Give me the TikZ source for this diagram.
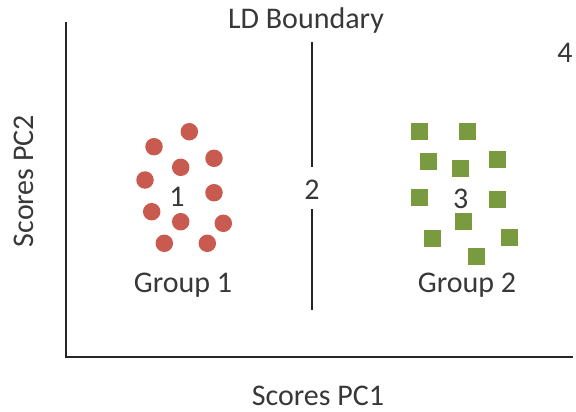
\documentclass[tikz,border=0pt]{standalone}
\usepackage{fontspec}
\setmainfont{Carlito}
\begin{document}
\begin{tikzpicture}[x=1pt,y=-1pt]
\definecolor{dotred}{RGB}{200,90,80}
\definecolor{olivegreen}{RGB}{122,154,64}
\tikzset{
  lbl/.style={font=\fontsize{30}{32}\selectfont, text=black!78, inner sep=0pt, anchor=base},
  axisline/.style={line width=2.6pt, black!85},
  dot/.style={circle, fill=dotred, draw=none, minimum size=17.5pt, inner sep=0pt},
  sq/.style={rectangle, fill=olivegreen, draw=none, minimum size=17pt, inner sep=0pt}}
\useasboundingbox (0,0) rectangle (576,412);

% axes
\coordinate (top) at (66,22);
\coordinate (origin) at (66,357);
\coordinate (right) at (573,357);
\draw[axisline] (top) -- (origin) -- (right);

% discriminant boundary, broken around its label
\node[lbl] (ld) at (306,29) {LD Boundary};
\node[lbl] (r2) at (312,199) {2};
\coordinate (b1) at (312,42);
\coordinate (b2) at (312,167);
\coordinate (b3) at (312,209);
\coordinate (b4) at (312,310);
\draw[axisline] (b1) -- (b2);
\draw[axisline] (b3) -- (b4);

% group 1: circles
\foreach \x/\y [count=\i] in {189.3/131.7, 154/146.7, 214/158.3, 180.7/167.3, 145/180,
    214/192.7, 151.7/211.7, 180.7/221.7, 223.3/223.3, 164.3/243.3, 207.3/243.3}
  \node[dot] (c\i) at (\x,\y) {};
\node[lbl] (r1) at (177,206) {1};
\node[lbl] (g1) at (183,292) {Group 1};

% group 2: squares
\foreach \x/\y [count=\i] in {419.3/131.7, 467.7/131.7, 428.3/161.7, 497.7/159, 460.7/168.3,
    419.3/197.7, 497.7/199.3, 463.3/221.7, 432.7/238.3, 509/237.3, 476/256.7}
  \node[sq] (s\i) at (\x,\y) {};
\node[lbl] (r3) at (460.7,208) {3};
\node[lbl] (g2) at (467,292) {Group 2};

% outer region label
\node[lbl] (r4) at (565,63) {4};

% axis titles
\node[lbl] (xt) at (318,405) {Scores PC1};
\node[lbl, rotate=90] (yt) at (34,181) {Scores PC2};
\end{tikzpicture}
\end{document}
